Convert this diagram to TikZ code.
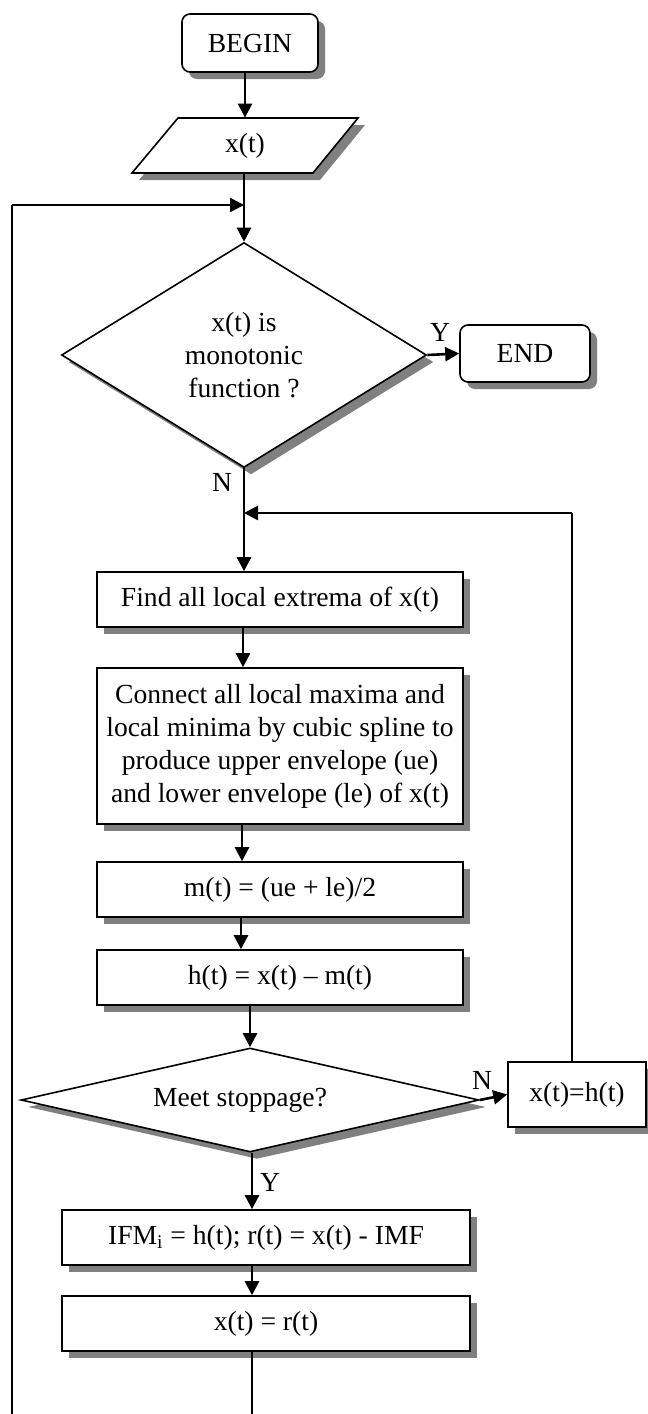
\documentclass[tikz,border=0pt]{standalone}
\usepackage{fontspec}
\setmainfont{Liberation Serif}
\usetikzlibrary{shapes.geometric,shadows,arrows.meta}
\begin{document}
\begin{tikzpicture}[x=0.5pt,y=-0.5pt,
  font=\fontsize{13.8}{16.5}\selectfont,
  shade/.style={drop shadow={shadow xshift=3.5pt,shadow yshift=-3.5pt,fill=black!50,opacity=1}},
  procbox/.style={draw,line width=0.8pt,fill=white,shade,minimum width=183pt,minimum height=27.5pt,inner sep=2pt,align=center},
  termbox/.style={draw,line width=0.8pt,fill=white,shade,rounded corners=4pt,minimum width=68pt,minimum height=29pt,inner sep=2pt},
  decision/.style={diamond,draw,line width=0.8pt,fill=white,shade,inner sep=0pt,align=center},
  flow/.style={line width=1.3pt,-{Triangle[length=7pt,width=7pt]}},
  plain/.style={line width=0.8pt},
  lab/.style={inner sep=0pt}]
\useasboundingbox (0,0) rectangle (648,1414);

% start and input
\node[termbox] (begin) at (250,43) {BEGIN};
\path[draw,line width=0.8pt,fill=white,shade] (132,173) -- (178,118) -- (358,118) -- (313,173) -- cycle;
\node[minimum width=180pt,minimum height=27.5pt,inner sep=0pt] (inp) at (245,145.5) {x(t)};

% first test
\node[decision,aspect=1.6,minimum width=182.5pt,minimum height=112.5pt] (mono) at (244,355)
  {x(t) is\\monotonic\\function ?};
\node[termbox,minimum width=65pt,minimum height=28.5pt] (stop) at (525,353.5) {END\hspace{12pt}};

% sifting steps
\node[procbox] (find) at (280,599.5) {Find all local extrema of x(t)};
\node[procbox,minimum height=78pt] (env) at (280,746)
  {Connect all local maxima and\\local minima by cubic spline to\\produce upper envelope (ue)\\and lower envelope (le) of x(t)};
\node[procbox] (mean) at (280,889.5) {m(t) = (ue + le)/2};
\node[procbox] (diff) at (280,977.5) {h(t) = x(t) -- m(t)};

% stoppage test
\node[decision,aspect=4.4,minimum width=229pt,minimum height=52pt] (meet) at (250,1100) {Meet stoppage?\hspace{10pt}};
\node[procbox,minimum width=69pt,minimum height=32.5pt] (upd) at (577,1094.5) {x(t)=h(t)};

% residue
\node[procbox,minimum width=204pt] (imf) at (266,1237.5) {IFM\textsubscript{i} = h(t); r(t) = x(t) - IMF};
\node[procbox,minimum width=204pt] (res) at (266,1323.5) {x(t) = r(t)};

% helper points of the loops
\coordinate (loopB) at (12,1414);
\coordinate (loopT) at (12,205);
\coordinate (join1) at (244,205);
\coordinate (ret) at (572,513);
\coordinate (join2) at (244,513);
\coordinate (outB) at (252,1414);

% connectors
\draw[flow] (begin.south -| inp) -- (inp.north);
\draw[line width=1.3pt] (inp.south -| mono) -- (join1);
\draw[flow] (join1) -- (mono.north);
\draw[plain] (loopB) -- (loopT);
\draw[flow] (loopT) -- (join1);
\draw[flow] (mono.east) -- (stop.west);
\node[lab] (ylab1) at (440,332) {Y};
\draw[flow] (mono.south) -- (find.north -| mono.south);
\node[lab] (nlab1) at (222,482) {N};
\draw[plain] (upd.north -| ret) -- (ret);
\draw[flow] (ret) -- (join2);
\draw[flow] (find.south -| 243,0) -- (env.north -| 243,0);
\draw[flow] (env.south -| 242,0) -- (mean.north -| 242,0);
\draw[flow] (mean.south -| 241,0) -- (diff.north -| 241,0);
\draw[flow] (diff.south -| meet) -- (meet.north);
\draw[flow] (meet.east) -- (upd.west);
\node[lab] (nlab2) at (482,1080) {N};
\draw[flow] (meet.south -| outB) -- (imf.north -| outB);
\node[lab] (ylab2) at (270,1182) {Y};
\draw[flow] (imf.south -| outB) -- (res.north -| outB);
\draw[plain] (res.south -| outB) -- (outB);
\end{tikzpicture}
\end{document}
